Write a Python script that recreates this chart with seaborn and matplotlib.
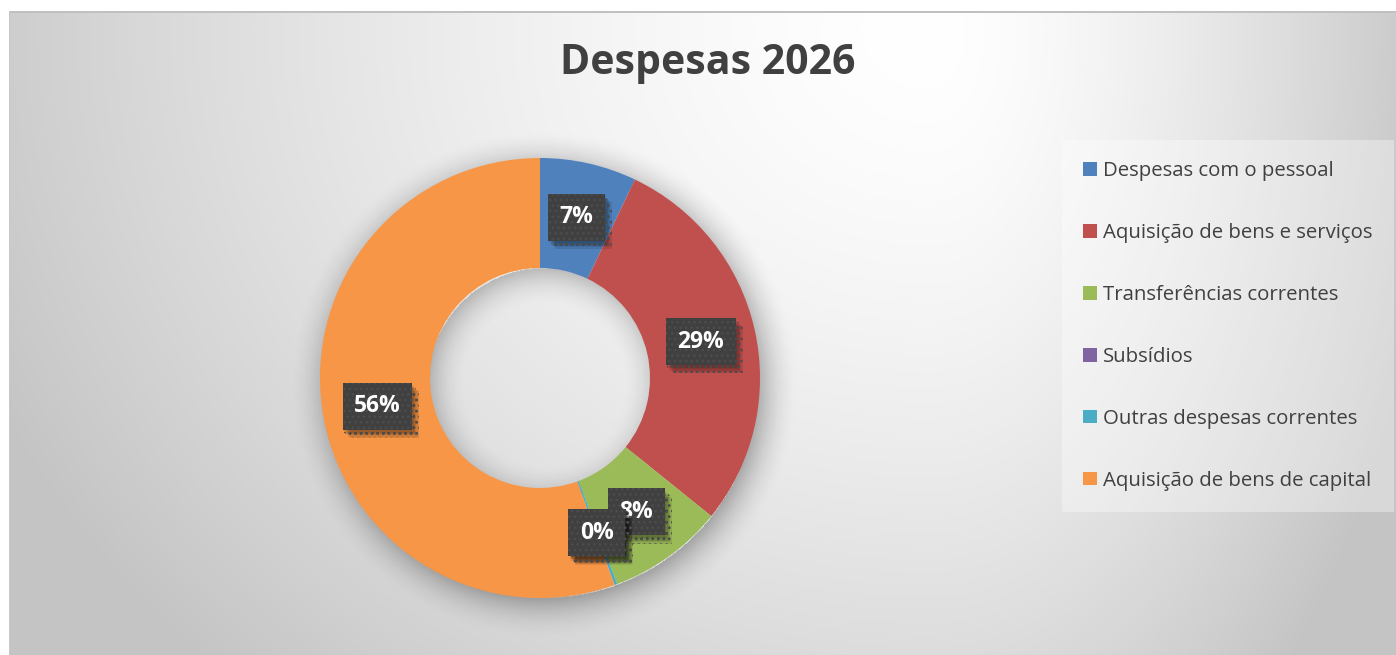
import numpy as np
import seaborn as sns
import matplotlib.pyplot as plt
from matplotlib import patheffects as pe
from matplotlib.patches import Patch

# --- data (share of total, %) ---
categories = [
    "Despesas com o pessoal",
    "Aquisição de bens e serviços",
    "Transferências correntes",
    "Subsídios",
    "Outras despesas correntes",
    "Aquisição de bens de capital",
]
shares = [7.1, 28.7, 8.5, 0.0, 0.2, 55.5]
colors = ["#4F81BD", "#C0504D", "#9BBB59", "#8064A2", "#4BACC6", "#F79646"]
title = "Despesas 2026"

sns.set_theme(style="white")
plt.rcParams['font.family'] = ['Open Sans', 'DejaVu Sans']
palette = sns.color_palette(colors)

W, H = 1396, 655
fig = plt.figure(figsize=(W / 100, H / 100), dpi=100)

# background gradient (chart area starts at x=9, y=10)
bg = fig.add_axes([0, 0, 1, 1], zorder=0)
yy, xx = np.mgrid[0:H, 0:W]
cx, cy = 930, 30
rx = np.where(xx < cx, 1050.0, 520.0)
d = np.sqrt(((xx - cx) / rx) ** 2 + ((yy - cy) / 900.0) ** 2)
g = 255 - 60 * np.clip(d, 0, 1.2) ** 1.5
g = np.clip(g, 196, 255)
g[(yy < 11) | (xx < 9)] = 255
g[(yy >= 11) & (yy < 13) & (xx >= 9)] = 192
g[(xx >= 9) & (xx < 10) & (yy >= 11)] = 200
bg.imshow(np.dstack([g, g, g]) / 255.0, aspect='auto', extent=[0, W, H, 0])
bg.set_axis_off()

# donut axes: centre (540, 378) px, outer radius 220 px
R = 220
lim = 1.3
aw = 2 * lim * R
ax = fig.add_axes([(540 - lim * R) / W, (H - 378 - lim * R) / H, aw / W, aw / H], zorder=1)
ax.set_axis_off()

# soft shadow under the ring
sy, sx = np.mgrid[-lim:lim:600j, -lim:lim:600j]
r = np.hypot(sx - 0.02, sy + 0.03)
a_out = 0.28 * np.clip(1 - (r - 0.97) / 0.2, 0, 1) ** 2 * (r >= 0.97)
a_in = 0.22 * np.clip(1 - (0.53 - r) / 0.18, 0, 1) ** 2 * (r <= 0.53)
shadow = np.zeros((600, 600, 4))
shadow[..., 3] = a_out + a_in
ax.imshow(shadow, extent=[-lim, lim, -lim, lim], origin='lower', zorder=0)

wedges, texts, autotexts = ax.pie(
    shares, colors=palette, startangle=90, counterclock=False, radius=1,
    wedgeprops=dict(width=0.5, linewidth=0), autopct=lambda p: f"{p:.0f}%",
    pctdistance=0.75, textprops=dict(color="white", fontsize=16.5, fontweight="bold"),
)
ax.set_aspect('equal')
ax.set_xlim(-lim, lim)
ax.set_ylim(-lim, lim)

# soft, blurred-looking shadow for the label boxes
box_shadow = [pe.SimplePatchShadow(offset=(o, -o - 1), shadow_rgbFace="black", alpha=0.09)
              for o in (1, 2, 3, 4, 5)]
for t in autotexts:
    t.set_bbox(dict(boxstyle="square,pad=0.5", facecolor="#404040",
                    edgecolor="#4d4d4d", linewidth=0, hatch="..."))
    t.set_zorder(5)
    t.get_bbox_patch().set_path_effects(box_shadow + [pe.Normal()])

fig.text(708 / W, 1 - 64 / H, title, ha='center', va='center',
         fontsize=29.5, fontweight='bold', color='#404040', zorder=3)

handles = [Patch(facecolor=c, edgecolor='none') for c in colors]
leg = fig.legend(handles, categories, loc='upper left',
                 bbox_to_anchor=(1062 / W, 1 - 140 / H), frameon=True,
                 fontsize=14.7, handlelength=0.65, handleheight=0.65,
                 handletextpad=0.3, labelspacing=2.05, borderpad=1.05,
                 borderaxespad=0, fancybox=False)
leg.get_frame().set_facecolor('white')
leg.get_frame().set_alpha(0.35)
leg.get_frame().set_edgecolor('none')
for t in leg.get_texts():
    t.set_color('#404040')
leg.set_zorder(4)

fig.savefig("out.png", dpi=100)
